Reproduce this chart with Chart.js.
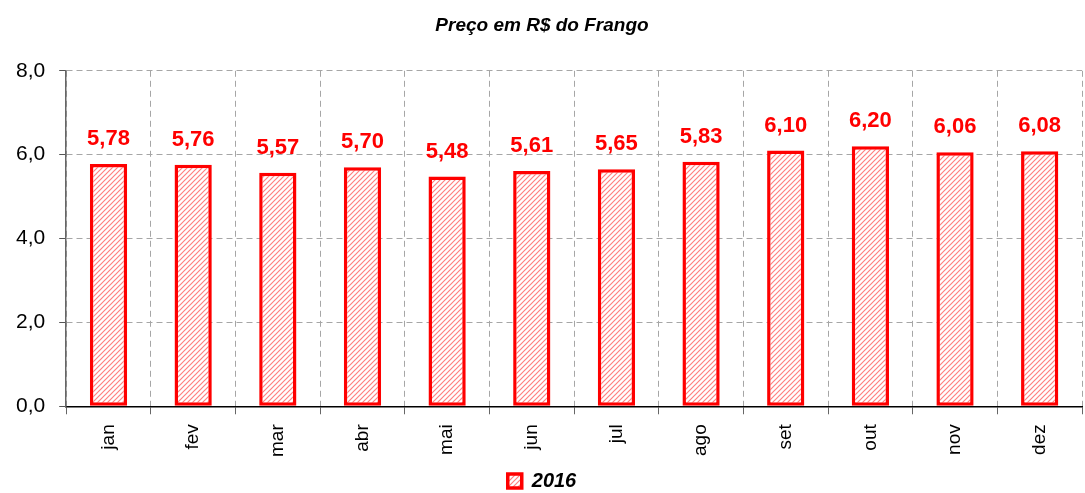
<!DOCTYPE html>
<html>
<head>
  <script src="https://cdn.jsdelivr.net/npm/chart.js"></script>
  <style>
    html, body { margin: 0; padding: 0; background: #fff; }
  </style>
</head>
<body>
  <div style="width: 1085px; height: 493px;">
    <canvas id="chart"></canvas>
  </div>
  <script>
    // chart data
    const months = ['jan', 'fev', 'mar', 'abr', 'mai', 'jun', 'jul', 'ago', 'set', 'out', 'nov', 'dez'];
    const prices2016 = [5.78, 5.76, 5.57, 5.70, 5.48, 5.61, 5.65, 5.83, 6.10, 6.20, 6.06, 6.08];
    const yTicks = [0, 2, 4, 6, 8];

    const fontFamily = 'Arial, "Liberation Sans", sans-serif';

    // diagonal hatch for the bars
    function makeHatch() {
      const c = document.createElement('canvas');
      c.width = 5; c.height = 5;
      const g = c.getContext('2d');
      g.fillStyle = '#fff';
      g.fillRect(0, 0, 5, 5);
      g.strokeStyle = '#ff8080';
      g.lineWidth = 1.2;
      g.beginPath();
      g.moveTo(-1, 6); g.lineTo(6, -1);
      g.moveTo(-1, 1); g.lineTo(1, -1);
      g.moveTo(4, 6); g.lineTo(6, 4);
      g.stroke();
      return g.createPattern(c, 'repeat');
    }
    const hatch = makeHatch();

    const fmt = v => v.toFixed(2).replace('.', ',');

    const valueLabels = {
      id: 'valueLabels',
      afterDatasetsDraw(chart) {
        const ctx = chart.ctx;
        const meta = chart.getDatasetMeta(0);
        ctx.save();
        ctx.fillStyle = '#ff0000';
        ctx.font = 'bold 22px ' + fontFamily;
        ctx.textAlign = 'center';
        ctx.textBaseline = 'bottom';
        meta.data.forEach((bar, i) => {
          ctx.fillText(fmt(prices2016[i]), bar.x, bar.y - 14);
        });
        ctx.restore();
      }
    };

    new Chart(document.getElementById('chart'), {
      type: 'bar',
      data: {
        labels: months,
        datasets: [{
          label: '2016',
          data: prices2016,
          backgroundColor: hatch,
          borderColor: '#ff0000',
          borderWidth: 3.5,
          borderSkipped: false,
          categoryPercentage: 0.44,
          barPercentage: 1
        }]
      },
      options: {
        responsive: true,
        maintainAspectRatio: false,
        animation: false,
        layout: { padding: { left: 2, right: 3, top: 0, bottom: -8 } },
        plugins: {
          title: {
            display: true,
            text: 'Preço em R$ do Frango',
            color: '#000',
            font: { family: fontFamily, size: 19, weight: 'bold', style: 'italic' },
            padding: { top: 14, bottom: 34 }
          },
          legend: {
            position: 'bottom',
            labels: {
              color: '#000',
              boxWidth: 14,
              boxHeight: 14,
              padding: 4,
              font: { family: fontFamily, size: 20, weight: 'bold', style: 'italic' }
            }
          },
          tooltip: { enabled: false }
        },
        scales: {
          x: {
            offset: true,
            grid: {
              offset: true,
              color: '#a6a6a6',
              tickBorderDash: [],
              tickColor: '#666',
              tickLength: 8
            },
            border: { color: '#000', width: 1.5, dash: [6, 4] },
            ticks: {
              color: '#000',
              maxRotation: 90,
              minRotation: 90,
              padding: 10,
              font: { family: fontFamily, size: 19 }
            }
          },
          y: {
            min: 0,
            max: 8,
            afterBuildTicks: axis => { axis.ticks = yTicks.map(v => ({ value: v })); },
            grid: {
              color: '#a6a6a6',
              tickBorderDash: [],
              tickColor: '#555',
              tickLength: 7
            },
            border: { color: '#666', width: 1.5, dash: [6, 4] },
            ticks: {
              color: '#000',
              padding: 14,
              font: { family: fontFamily, size: 21 },
              callback: v => v.toFixed(1).replace('.', ',')
            }
          }
        }
      },
      plugins: [valueLabels]
    });
  </script>
</body>
</html>
